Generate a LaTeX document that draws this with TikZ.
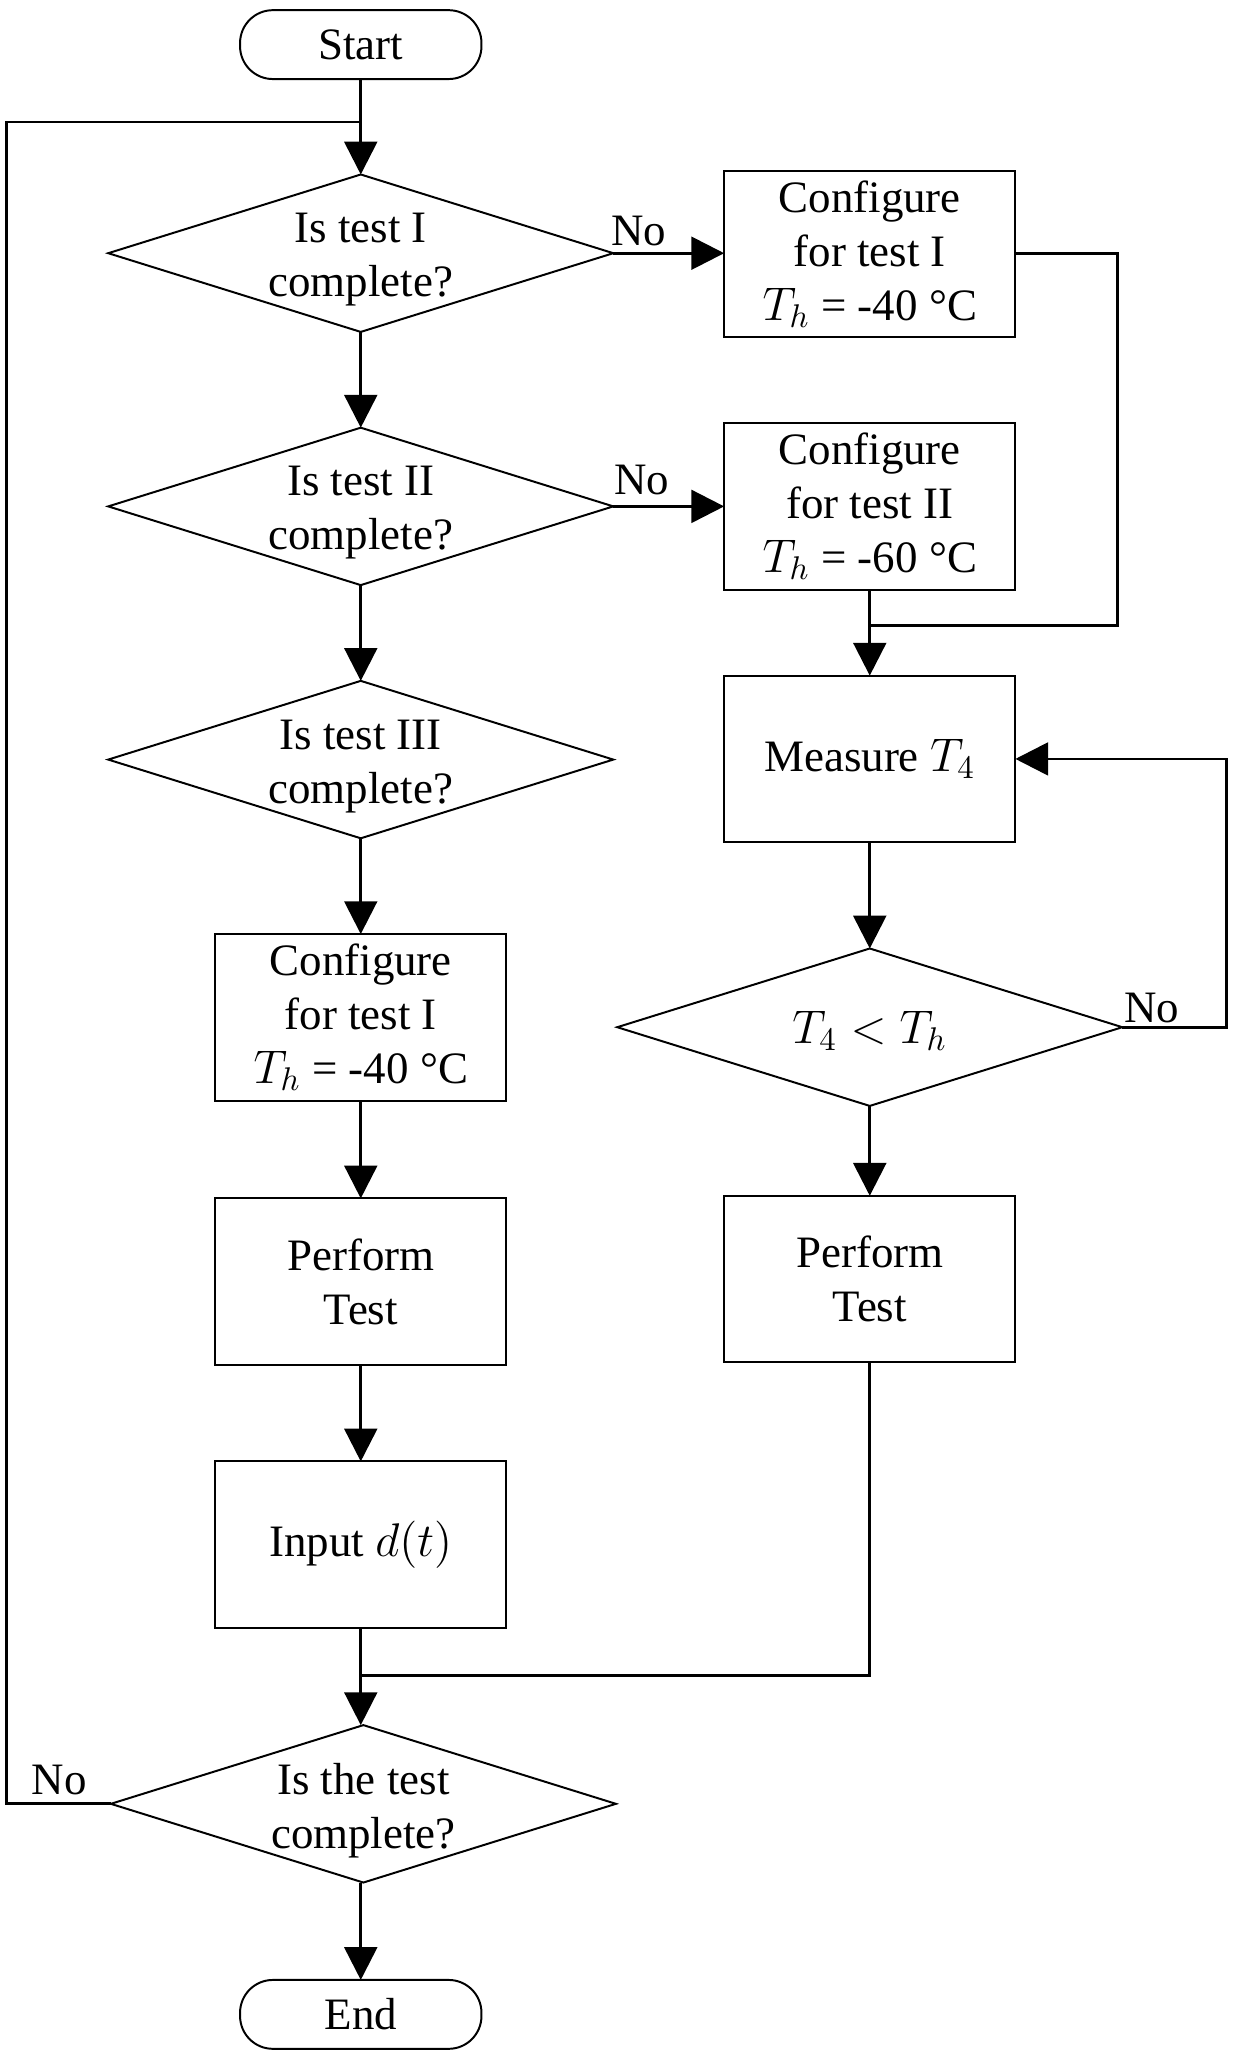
\documentclass[tikz,border=0pt]{standalone}
\usepackage{fontspec}
\setmainfont{Liberation Serif}
\usetikzlibrary{shapes.geometric,arrows.meta}
\begin{document}
\begin{tikzpicture}[x=0.4pt,y=-0.4pt,
  every node/.style={font=\fontsize{13.7}{16.5}\selectfont},
  box/.style={draw, line width=0.6pt, minimum width=88.8pt, minimum height=50.8pt, align=center, inner sep=0pt, outer sep=0pt},
  term/.style={draw, line width=0.6pt, rounded corners=10pt, minimum width=73.6pt, minimum height=21pt, inner sep=0pt, outer sep=0pt},
  dec/.style={draw, diamond, line width=0.6pt, minimum width=154pt, minimum height=48pt, inner sep=0pt, outer sep=0pt},
  dtext/.style={align=center, inner sep=0pt},
  lbl/.style={inner sep=0pt},
  conn/.style={line width=0.85pt},
  arr/.style={conn, -{Triangle[length=10pt,width=10pt]}}
]
\path[fill=white] (0,0) rectangle (940,1568);
\useasboundingbox (0,0) rectangle (940,1568);

% left column
\node[term] (start) at (275,34) {Start};
\node[dec] (d1) at (275,193) {};
\node[dtext] (d1t) at (275,198) {Is test I\\complete?};
\node[dec] (d2) at (275,386) {};
\node[dtext] (d2t) at (275,391) {Is test II\\complete?};
\node[dec] (d3) at (275,579) {};
\node[dtext] (d3t) at (275,584) {Is test III\\complete?};
\node[box] (c3) at (275,775.5) {Configure\\for test I\\$T_h$ = -40 °C};
\node[box] (p1) at (275,977) {Perform\\Test};
\node[box] (inp) at (275,1177.5) {Input $d(t)$};
\node[dec] (dfin) at (277,1375) {};
\node[dtext] (dfint) at (277,1380) {Is the test\\complete?};
\node[term] (end) at (275,1535.5) {End};

% right column
\node[box] (c1) at (663,193.5) {Configure\\for test I\\$T_h$ = -40 °C};
\node[box] (c2) at (663,386) {Configure\\for test II\\$T_h$ = -60 °C};
\node[box] (m) at (663,578.5) {Measure $T_4$};
\node[dec] (t4) at (663,783) {};
\node[dtext] (t4t) at (663,786) {$T_4 < T_h$};
\node[box] (p2) at (663,975) {Perform\\Test};

% labels
\node[lbl] (no1) at (487,176) {No};
\node[lbl] (no2) at (489,366) {No};
\node[lbl] (no3) at (878,768) {No};
\node[lbl] (no4) at (45,1357) {No};

% helper coordinates
\coordinate (j1) at (275,93);
\coordinate (lx) at (5,93);
\coordinate (rx) at (852,0);
\coordinate (j2) at (663,477);
\coordinate (rx2) at (935,0);
\coordinate (j3) at (275,1277);

% connectors
\draw[arr] (start) -- (d1);
\draw[conn] (dfin.west) -| (lx) -- (j1);
\draw[arr] (d1.east) -- (d1.east -| c1.west);
\draw[arr] (d2.east) -- (d2.east -| c2.west);
\draw[conn] (c1.east) -- (c1.east -| rx) -- (rx |- j2) -- (j2);
\draw[arr] (c2) -- (m);
\draw[arr] (d1) -- (d2);
\draw[arr] (d2) -- (d3);
\draw[arr] (d3) -- (c3);
\draw[arr] (c3) -- (p1);
\draw[arr] (p1) -- (inp);
\draw[arr] (inp.south) -- (inp.south |- dfin.north);
\draw[arr] (dfin.south -| end.north) -- (end);
\draw[arr] (m) -- (t4);
\draw[arr] (t4) -- (p2);
\draw[arr] (t4.east) -- (t4.east -| rx2) -- (rx2 |- m.east) -- (m.east);
\draw[conn] (p2.south) -- (p2.south |- j3) -- (j3);
\end{tikzpicture}
\end{document}
